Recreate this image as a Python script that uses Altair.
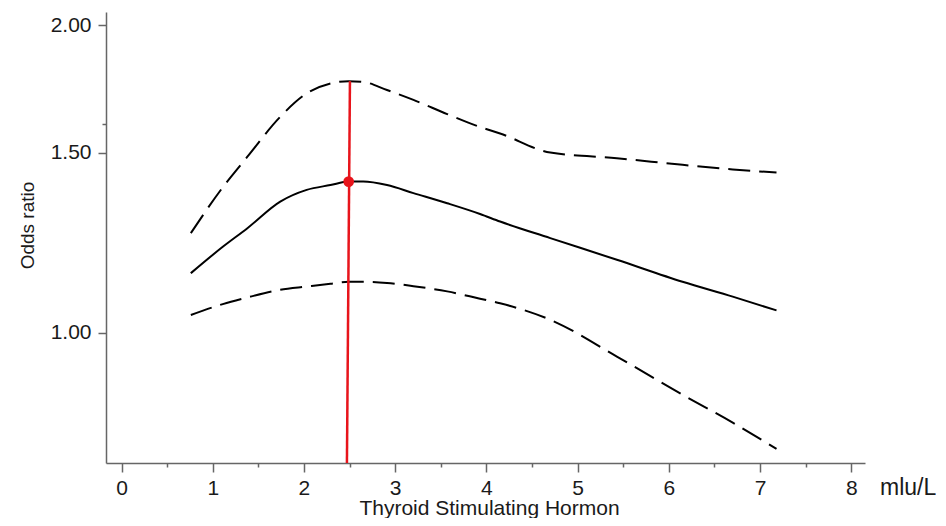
import altair as alt
import pandas as pd

# TSH values (mIU/L) at which the curves were read
tsh = [0.76, 1.11, 1.38, 1.74, 2.03, 2.29, 2.49, 2.65, 2.91, 3.20,
       3.57, 3.93, 4.15, 4.70, 5.43, 6.15, 6.70, 7.18]
# Odds ratio (solid) and its 95% CI bounds (dashed)
or_mid = [1.144, 1.214, 1.266, 1.344, 1.380, 1.395, 1.406, 1.406, 1.395, 1.370,
          1.339, 1.307, 1.285, 1.238, 1.179, 1.122, 1.085, 1.052]
or_upper = [1.252, 1.388, 1.487, 1.627, 1.715, 1.754, 1.763, 1.760, 1.728, 1.690,
            1.637, 1.590, 1.567, 1.501, 1.482, 1.460, 1.445, 1.435]
or_lower = [1.041, 1.067, 1.083, 1.102, 1.110, 1.117, 1.122, 1.122, 1.119, 1.111,
            1.098, 1.080, 1.069, 1.030, 0.948, 0.870, 0.817, 0.770]

# Reference (peak) marker
peak_tsh = [2.49]
peak_or = [1.406]
ref_top_tsh = [2.504]
ref_bottom_tsh = [2.471]
ref_top_or = [1.763]

x_ticks = [0, 0.5, 1, 1.5, 2, 2.5, 3, 3.5, 4, 4.5, 5, 5.5, 6, 6.5, 7, 7.5, 8]
y_ticks = [1.0, 1.5, 1.6, 2.0]
x_min, x_max = -0.17, 8.15
y_min, y_max = 0.746, 2.06

n = len(tsh)
curves = pd.DataFrame({
    "tsh": tsh * 3,
    "or": or_mid + or_upper + or_lower,
    "series": ["mid"] * n + ["upper"] * n + ["lower"] * n,
})
ref = pd.DataFrame({"x": ref_top_tsh, "x2": ref_bottom_tsh, "y": ref_top_or, "y2": [y_min]})
peak = pd.DataFrame({"tsh": peak_tsh, "or": peak_or})
unit = pd.DataFrame({"x": [x_max], "y": [y_min], "t": ["mlu/L"]})

FONT = "Liberation Sans, Arial, sans-serif"
AX = "#666666"

xscale = alt.Scale(domain=[x_min, x_max], nice=False, zero=False)
yscale = alt.Scale(type="log", domain=[y_min, y_max], nice=False)

x_axis = alt.Axis(
    values=x_ticks, format=".0f",
    labelExpr="datum.value % 1 == 0 ? datum.label : ''",
    tickSize={"condition": {"test": "datum.value % 1 != 0", "value": 4}, "value": 9},
    labelPadding=5, labelFontSize=21, labelColor="#1a1a1a", labelFont=FONT,
    title="Thyroid Stimulating Hormon", titleFontSize=21, titleFontWeight="normal",
    titleFont=FONT, titleColor="#1a1a1a", titleX=383, titleY=51,
    titleBaseline="alphabetic", titleAlign="center",
    domainColor=AX, domainWidth=1.5, tickColor=AX, tickWidth=1.5, grid=False,
    labelFlush=False, labelOverlap=False,
)
y_axis = alt.Axis(
    values=y_ticks, format=".2f",
    labelExpr="datum.value == 1.6 ? '' : datum.label",
    tickSize={"condition": {"test": "datum.value == 1.6", "value": 4}, "value": 8},
    labelPadding=7, labelFontSize=21, labelColor="#1a1a1a", labelFont=FONT,
    title="Odds ratio", titleFontSize=19, titleFontWeight="normal",
    titleFont=FONT, titleColor="#1a1a1a", titleX=-73, titleY=213,
    titleBaseline="alphabetic", titleAlign="center", titleAngle=270,
    domainColor=AX, domainWidth=1.5, tickColor=AX, tickWidth=1.5, grid=False,
    labelFlush=False, labelOverlap=False,
)

def X(field):
    return alt.X(field, type="quantitative", scale=xscale, axis=x_axis)

def Y(field):
    return alt.Y(field, type="quantitative", scale=yscale, axis=y_axis)

mid_line = alt.Chart(curves).transform_filter("datum.series == 'mid'").mark_line(
    color="black", strokeWidth=2, interpolate="monotone"
).encode(x=X("tsh"), y=Y("or"))

ci_lines = alt.Chart(curves).transform_filter("datum.series != 'mid'").mark_line(
    color="black", strokeWidth=2, strokeDash=[22, 9], interpolate="monotone"
).encode(x=X("tsh"), y=Y("or"), detail="series:N")

ref_rule = alt.Chart(ref).mark_rule(color="#e8141b", strokeWidth=2.5).encode(
    x=X("x"), x2="x2", y=Y("y"), y2="y2"
)

peak_pt = alt.Chart(peak).mark_circle(color="#e8141b", size=115, opacity=1).encode(
    x=X("tsh"), y=Y("or")
)

unit_txt = alt.Chart(unit).mark_text(
    align="left", baseline="alphabetic", fontSize=23, font=FONT, color="#1a1a1a",
    dx=15, dy=32
).encode(x=X("x"), y=Y("y"), text="t:N")

chart = alt.layer(ci_lines, mid_line, ref_rule, peak_pt, unit_txt).properties(
    width=759, height=451,
    autosize=alt.AutoSizeParams(type="none"),
    padding={"left": 98, "top": 4, "right": 71, "bottom": 55},
    background="white",
).configure_view(stroke=None)

chart.save("out.html", embed_options={"renderer": "svg", "actions": False})
